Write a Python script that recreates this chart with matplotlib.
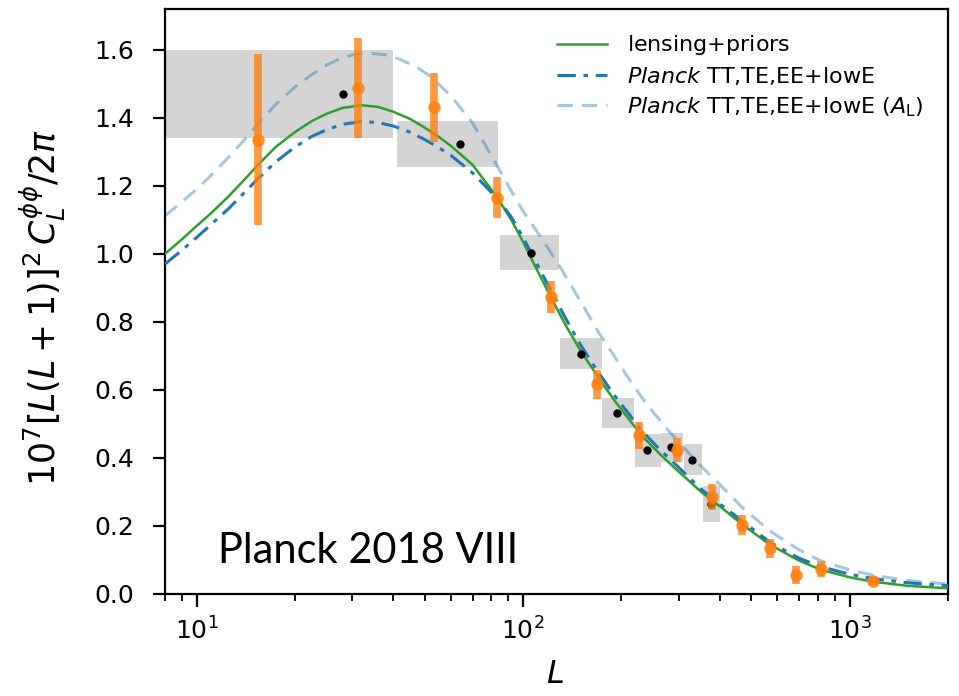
import numpy as np
import matplotlib
matplotlib.use("Agg")
import matplotlib.pyplot as plt

plt.rcParams['font.family'] = ['DejaVu Sans']
plt.rcParams['mathtext.fontset'] = 'dejavusans'

# binned bandpowers (grey boxes + black points)
bin_lo = [8, 41, 85, 130, 175, 220, 265, 310, 355]
bin_hi = [40, 84, 129, 174, 219, 264, 309, 354, 400]
box_L = [28, 64, 106, 150, 194, 239, 284, 330, 377]
box_val = [1.470, 1.324, 1.003, 0.706, 0.531, 0.422, 0.431, 0.395, 0.265]
box_err = [0.130, 0.068, 0.051, 0.046, 0.044, 0.048, 0.043, 0.046, 0.053]

# orange points
ora_L = [15.4, 31.3, 53.3, 83, 121.5, 168.7, 226, 296, 378, 468, 569, 687, 817, 1180]
ora_val = [1.336, 1.488, 1.431, 1.165, 0.873, 0.616, 0.467, 0.423, 0.285, 0.203,
           0.134, 0.056, 0.073, 0.039]
ora_err = [0.252, 0.147, 0.101, 0.060, 0.047, 0.043, 0.040, 0.036, 0.037, 0.030,
           0.029, 0.027, 0.023, 0.012]

# model curves
curve_L = [8, 9, 10, 11, 12.5, 14, 15.5, 17.5, 20, 22.5, 25, 28, 32, 36, 40, 45, 50,
           55, 60, 70, 83, 92, 100, 110, 121.5, 135, 150, 169, 190, 230, 260, 290,
           351, 400, 468, 570, 700, 817, 1000, 1180, 1500, 2000]
green_val = [1.000, 1.042, 1.082, 1.117, 1.168, 1.218, 1.264, 1.315, 1.358, 1.390,
             1.412, 1.429, 1.437, 1.432, 1.418, 1.397, 1.371, 1.345, 1.318, 1.262,
             1.168, 1.100, 1.035, 0.955, 0.873, 0.790, 0.715, 0.640, 0.570, 0.467,
             0.415, 0.372, 0.300, 0.258, 0.205, 0.145, 0.098, 0.071, 0.049, 0.036,
             0.024, 0.0167]
blue_val = [0.970, 1.010, 1.048, 1.084, 1.132, 1.180, 1.223, 1.271, 1.314, 1.345,
            1.365, 1.381, 1.389, 1.386, 1.376, 1.358, 1.336, 1.313, 1.290, 1.238,
            1.165, 1.108, 1.048, 0.972, 0.893, 0.810, 0.732, 0.655, 0.585, 0.482,
            0.428, 0.385, 0.308, 0.265, 0.215, 0.152, 0.105, 0.080, 0.058, 0.045,
            0.033, 0.0245]

al_L = [8, 9, 10, 11, 12.5, 14, 15.5, 17.5, 20, 22.5, 25, 28, 31, 34, 38, 42, 47, 52,
        60, 70, 82, 92, 100, 114, 131, 150, 170, 190, 205, 230, 250, 280, 305, 351,
        400, 468, 570, 700, 817, 1000, 1180, 1500, 2000]
al_val = [1.112, 1.152, 1.190, 1.228, 1.283, 1.335, 1.385, 1.440, 1.490, 1.527,
          1.555, 1.577, 1.588, 1.590, 1.585, 1.572, 1.550, 1.522, 1.465, 1.385,
          1.270, 1.185, 1.125, 1.045, 0.955, 0.860, 0.770, 0.700, 0.650, 0.580,
          0.535, 0.478, 0.438, 0.375, 0.322, 0.255, 0.185, 0.130, 0.097, 0.071,
          0.055, 0.040, 0.029]

fig = plt.figure(figsize=(9.59, 6.96), dpi=100)
ax = fig.add_axes([0.172, 0.1466, 0.8165, 0.8405])

ax.bar(bin_lo, 2 * np.array(box_err), width=np.array(bin_hi) - np.array(bin_lo),
       bottom=np.array(box_val) - np.array(box_err), align='edge',
       color='#d4d4d4', linewidth=0, zorder=1)

ax.plot(curve_L, green_val, color='#2ca02c', lw=1.8, zorder=3, label=r'lensing$+$priors')
ax.plot(curve_L, blue_val, color='#1f77b4', lw=2.2, ls=(0, (6, 2.5, 1.5, 2.5)), zorder=3,
        label=r'$\mathit{Planck}$ TT,TE,EE$+$lowE')
ax.plot(al_L, al_val, color='#1f77b4', alpha=0.4, lw=2.2, ls=(0, (5, 3)), zorder=2,
        label=r'$\mathit{Planck}$ TT,TE,EE$+$lowE ($A_{\rm L}$)')

ax.plot(box_L, box_val, 'o', color='k', ms=5, zorder=4)
ax.errorbar(ora_L, ora_val, yerr=ora_err, fmt='o', color='#ff7f0e', alpha=0.8,
            ms=8, elinewidth=5.5, capsize=0, zorder=5)

ax.set_xscale('log')
ax.set_xlim(8, 2000)
ax.set_ylim(0, 1.72)
ax.set_yticks(np.arange(0, 1.61, 0.2))
ax.set_yticklabels(['%.1f' % v for v in np.arange(0, 1.61, 0.2)])

for s in ax.spines.values():
    s.set_linewidth(1.6)
ax.tick_params(which='major', direction='out', length=9, width=1.6, labelsize=18)
ax.tick_params(which='minor', direction='out', length=5, width=1.3)
ax.tick_params(axis='x', pad=8)
ax.tick_params(axis='y', pad=13)

ax.set_xlabel(r'$L$', fontsize=23)
ax.set_ylabel(r'$10^7[L(L+1)]^2\,C_L^{\phi\phi}/2\pi$', fontsize=25)
ax.xaxis.set_label_coords(0.498, -0.112)
ax.yaxis.set_label_coords(-0.124, 0.49)

ax.legend(loc='upper right', frameon=False, fontsize=16, handlelength=2.25,
          handletextpad=0.9, borderaxespad=0.7, labelspacing=0.35)

ax.text(0.068, 0.053, 'Planck 2018 VIII', transform=ax.transAxes, fontsize=30,
        family=['Lato', 'DejaVu Sans'], va='baseline', ha='left')

plt.savefig('out.png', dpi=100)
